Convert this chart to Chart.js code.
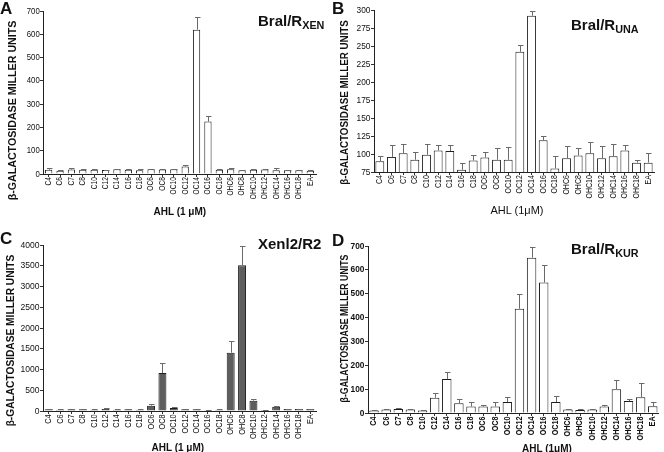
<!DOCTYPE html>
<html><head><meta charset="utf-8">
<script src="https://cdn.jsdelivr.net/npm/chart.js@4.4.1/dist/chart.umd.min.js"></script>
<style>
html,body{margin:0;padding:0;background:#fff}
body{width:664px;height:452px;overflow:hidden;position:relative;font-family:"Liberation Sans",Arial,sans-serif;color:#111}
.panel{position:absolute;width:332px;height:226px}
.panel canvas{position:absolute;left:0;top:0}
.t{position:absolute;white-space:nowrap;line-height:1;color:#111}
.rot{transform-origin:center center}
sub{font-size:72%;vertical-align:-0.28em}
</style></head><body>
<div class="panel" style="left:0;top:0"><canvas id="cA" width="332" height="226"></canvas></div>
<div class="panel" style="left:332px;top:0"><canvas id="cB" width="332" height="226"></canvas></div>
<div class="panel" style="left:0;top:226px"><canvas id="cC" width="332" height="226"></canvas></div>
<div class="panel" style="left:332px;top:226px"><canvas id="cD" width="332" height="226"></canvas></div>

<div class="t" style="left:0;top:-1px;font:bold 17px 'Liberation Sans',Arial">A</div>
<div class="t" style="left:332px;top:-1px;font:bold 17px 'Liberation Sans',Arial">B</div>
<div class="t" style="left:0;top:229px;font:bold 17px 'Liberation Sans',Arial">C</div>
<div class="t" style="left:332px;top:231px;font:bold 17px 'Liberation Sans',Arial">D</div>

<div class="t" id="tA" style="left:258px;top:12px;font:bold 15px 'Liberation Sans',Arial">Bral/R<sub>XEN</sub></div>
<div class="t" id="tB" style="left:571px;top:16px;font:bold 15px 'Liberation Sans',Arial">Bral/R<sub>UNA</sub></div>
<div class="t" id="tC" style="left:258px;top:235px;font:bold 15px 'Liberation Sans',Arial">Xenl2/R2</div>
<div class="t" id="tD" style="left:571px;top:240px;font:bold 15px 'Liberation Sans',Arial">Bral/R<sub>KUR</sub></div>

<div class="t rot ylab" data-cx="12" data-cy="110" data-len="180" style="font:bold 10px 'Liberation Sans',Arial">β-GALACTOSIDASE  MILLER  UNITS</div>
<div class="t rot ylab" data-cx="344" data-cy="102" data-len="165" style="font:bold 10px 'Liberation Sans',Arial">β-GALACTOSIDASE MILLER UNITS</div>
<div class="t rot ylab" data-cx="10" data-cy="340" data-len="172" style="font:bold 10px 'Liberation Sans',Arial">β-GALACTOSIDASE  MILLER  UNITS</div>
<div class="t rot ylab" data-cx="344" data-cy="328" data-len="148" style="font:bold 10px 'Liberation Sans',Arial">β-GALACTOSIDASE MILLER UNITS</div>

<div class="t xlab" data-cx="180" data-cy="211" style="font:bold 10px 'Liberation Sans',Arial">AHL (1 μM)</div>
<div class="t xlab" data-cx="517" data-cy="210" style="font:11px 'Liberation Sans',Arial">AHL (1μM)</div>
<div class="t xlab" data-cx="178" data-cy="447" style="font:bold 10px 'Liberation Sans',Arial">AHL (1 μM)</div>
<div class="t xlab" data-cx="547" data-cy="448" style="font:bold 10px 'Liberation Sans',Arial">AHL (1μM)</div>

<script>
// ---------------- DATA ----------------
const categories = ['C4','C6','C7','C8','C10','C12','C14','C16','C18','OC6','OC8','OC10','OC12','OC14','OC16','OC18','OHC6','OHC8','OHC10','OHC12','OHC14','OHC16','OHC18','EA'];

// Panel A: Bral/R XEN
const valuesA = [18,14,19,18,18,17,20,18,16,20,19,20,32,620,225,18,20,16,18,19,16,16,16,14];
const errorsA = [6,2,5,5,4,2,1,5,5,3,4,2,6,55,22,4,4,3,5,4,8,2,2,5];
const yTicksA = [0,100,200,300,400,500,600,700];

// Panel B: Bral/R UNA
const valuesB = [90,96,101,92,99,105,104,78,91,95,92,92,242,292,119,80,94,98,101,94,97,105,88,88];
const errorsB = [7,16,13,11,15,7,9,9,8,8,17,18,9,7,6,17,17,10,16,17,17,8,4,14];
const yTicksB = [75,100,125,150,175,200,225,250,275,300];

// Panel C: XenI2/R2
const valuesC = [40,32,40,40,32,48,32,40,32,129,916,72,40,40,16,32,1406,3510,250,24,105,48,48,48];
const errorsC = [8,6,8,8,6,32,6,8,6,40,233,16,8,8,4,8,280,475,30,6,24,8,8,10];
const yTicksC = [0,500,1000,1500,2000,2500,3000,3500,4000];

// Panel D: Bral/R KUR
const valuesD = [11,15,17,15,11,64,143,41,27,27,27,46,437,651,547,46,15,13,15,27,100,50,66,28];
const errorsD = [2,2,3,2,2,20,28,18,18,7,18,21,60,43,72,27,3,2,2,5,38,7,59,17];
const yTicksD = [0,100,200,300,400,500,600,700];

// ---------------- RENDER ----------------
const FONT = "'Liberation Sans',Arial,sans-serif";

const errorBars = {
  id: 'errorBars',
  afterDatasetsDraw(chart) {
    const ds = chart.data.datasets[0];
    const meta = chart.getDatasetMeta(0);
    const ys = chart.scales.y;
    const c = chart.ctx;
    c.save();
    c.strokeStyle = '#6a6a6a';
    c.lineWidth = 1;
    meta.data.forEach((bar, i) => {
      const top = ys.getPixelForValue(ds.data[i] + ds.errors[i]);
      const x = Math.round(bar.x) + 0.5;
      const yt = Math.round(top) + 0.5;
      c.beginPath();
      c.moveTo(x, bar.y);
      c.lineTo(x, yt);
      c.moveTo(x - 2.5, yt);
      c.lineTo(x + 3, yt);
      c.stroke();
    });
    c.restore();
  }
};

// draws the library's own tick labels in a condensed (narrow) face
const condense = {
  id: 'condense',
  beforeDraw(chart, args, opts) {
    ['x', 'y'].forEach(id => {
      const s = chart.scales[id];
      if (!s || s._condensed) return;
      s._condensed = true;
      const orig = s.drawLabels.bind(s);
      const k = id === 'x' ? opts.kx : opts.ky;
      s.drawLabels = function (area) {
        const c = this.ctx;
        c.save();
        if (this.isHorizontal()) { c.translate(0, this.top); c.scale(1, k); c.translate(0, -this.top); }
        else { c.translate(this.right, 0); c.scale(k, 1); c.translate(-this.right, 0); }
        orig(area);
        c.restore();
      };
    });
  }
};

function makePanel(id, p) {
  new Chart(document.getElementById(id), {
    type: 'bar',
    data: {
      labels: categories,
      datasets: [{
        data: p.values,
        errors: p.errors,
        backgroundColor: p.fill,
        borderColor: '#1c1c1c',
        borderWidth: 1,
        barPercentage: p.bar,
        categoryPercentage: 1
      }]
    },
    options: {
      responsive: false,
      animation: false,
      devicePixelRatio: 1,
      layout: { padding: { left: 0, right: p.padR, top: p.padT, bottom: 0 } },
      plugins: { legend: { display: false }, tooltip: { enabled: false }, title: { display: false },
                 condense: { kx: p.kx, ky: p.ky } },
      scales: {
        x: {
          offset: true,
          grid: { display: true, drawOnChartArea: false, drawTicks: true, tickLength: 3, color: '#333', offset: false },
          border: { display: true, color: '#222', width: 1 },
          ticks: { autoSkip: false, minRotation: 90, maxRotation: 90, padding: 1, color: '#111',
                   font: { family: FONT, size: p.xFont, weight: p.weight } },
          afterFit(s) { s.height = p.H; }
        },
        y: {
          min: p.ticks[0], max: p.ticks[p.ticks.length - 1],
          grid: { display: true, drawOnChartArea: false, drawTicks: true, tickLength: 3, color: '#333' },
          border: { display: true, color: '#222', width: 1 },
          ticks: { padding: 1, color: '#111', font: { family: FONT, size: p.yFont, weight: p.weight },
                   callback: v => String(v) },
          afterBuildTicks(s) { s.ticks = p.ticks.map(v => ({ value: v })); },
          afterFit(s) { s.width = p.W; }
        }
      }
    },
    plugins: [errorBars, condense]
  });
}

makePanel('cA', { values: valuesA, errors: errorsA, ticks: yTicksA, fill: '#ffffff', bar: 0.64, W: 43, padR: 16, padT: 11, H: 52, xFont: 8.5, yFont: 9.5, kx: 0.78, ky: 0.82, weight: 'normal' });
makePanel('cB', { values: valuesB, errors: errorsB, ticks: yTicksB, fill: '#ffffff', bar: 0.76, W: 42, padR: 10, padT: 10, H: 54, xFont: 9, yFont: 9.5, kx: 0.78, ky: 0.88, weight: 'normal' });
makePanel('cC', { values: valuesC, errors: errorsC, ticks: yTicksC, fill: '#5e5e5e', bar: 0.7, W: 43, padR: 16, padT: 19, H: 41, xFont: 9, yFont: 9.5, kx: 0.82, ky: 0.9, weight: 'normal' });
makePanel('cD', { values: valuesD, errors: errorsD, ticks: yTicksD, fill: '#ffffff', bar: 0.78, W: 36, padR: 2, padT: 20, H: 39, xFont: 8.5, yFont: 9.5, kx: 0.85, ky: 0.88, weight: 'bold' });

// place rotated y titles and x titles
document.querySelectorAll('.ylab').forEach(el => {
  const w = el.offsetWidth, h = el.offsetHeight;
  const k = (+el.dataset.len) / w;
  el.style.left = (+el.dataset.cx - w / 2) + 'px';
  el.style.top = (+el.dataset.cy - h / 2) + 'px';
  el.style.transform = 'rotate(-90deg) scaleX(' + k.toFixed(3) + ')';
});
document.querySelectorAll('.xlab').forEach(el => {
  const w = el.offsetWidth, h = el.offsetHeight;
  el.style.left = (+el.dataset.cx - w / 2) + 'px';
  el.style.top = (+el.dataset.cy - h / 2) + 'px';
});
</script>
</body></html>
